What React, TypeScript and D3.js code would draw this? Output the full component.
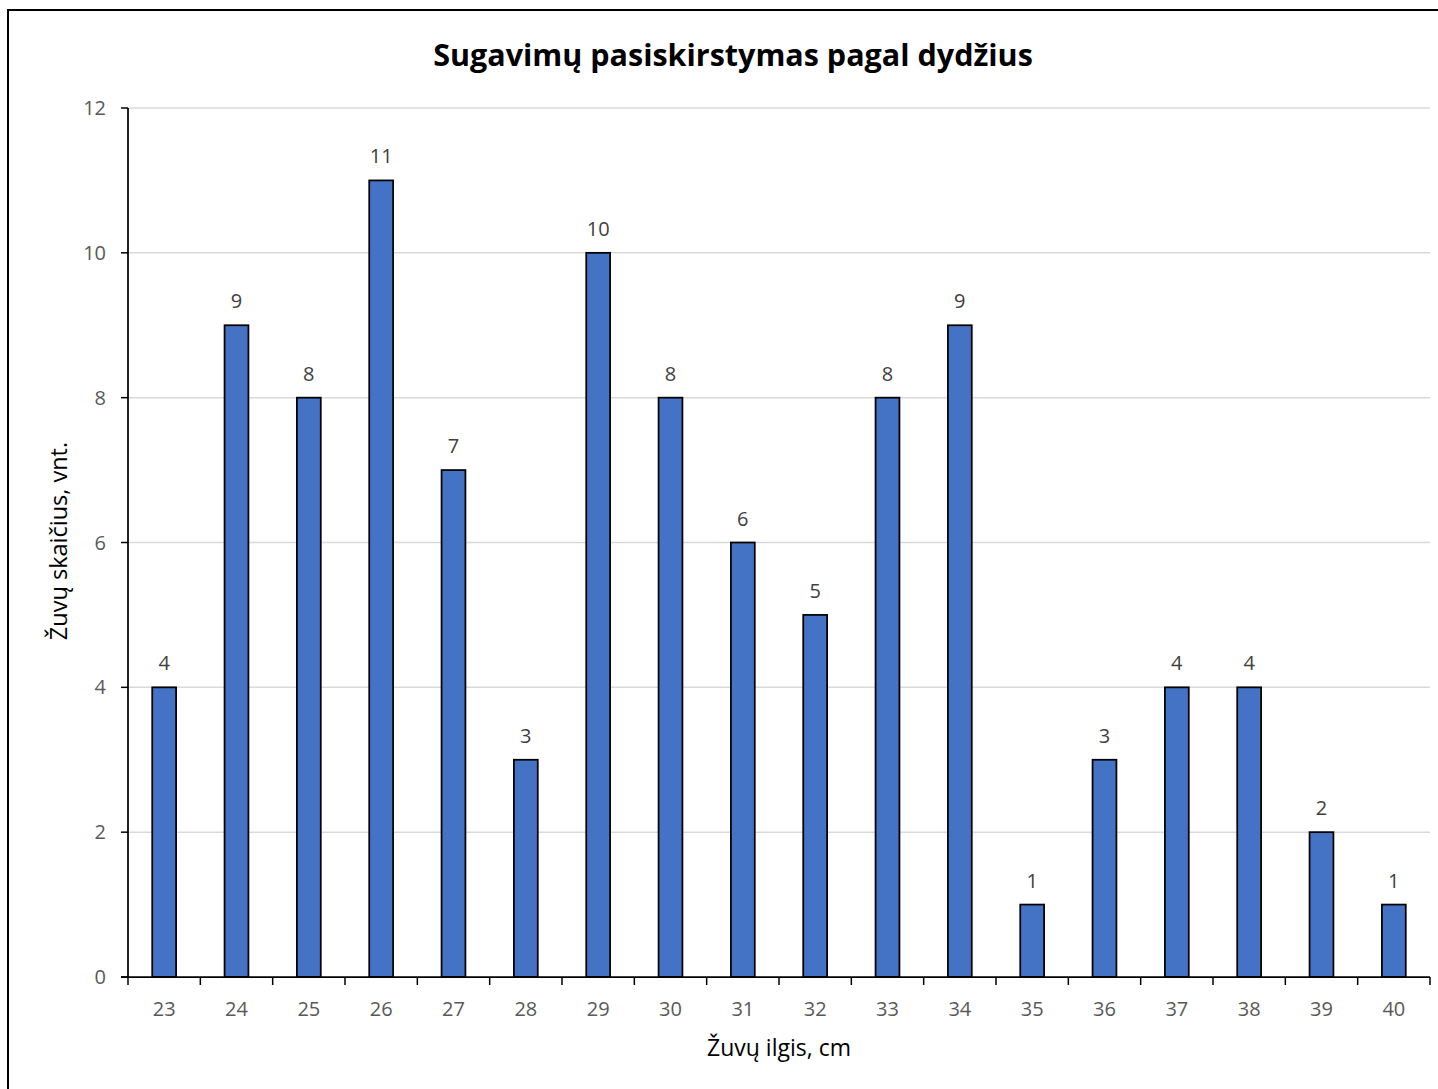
import React from 'react';
import * as d3 from 'd3';

const lengths = ['23', '24', '25', '26', '27', '28', '29', '30', '31', '32', '33', '34', '35', '36', '37', '38', '39', '40'];
const counts = [4, 9, 8, 11, 7, 3, 10, 8, 6, 5, 8, 9, 1, 3, 4, 4, 2, 1];
const yTicks = [0, 2, 4, 6, 8, 10, 12];

const W = 1438;
const H = 1089;
const font = '"Open Sans", "Noto Sans", sans-serif';

const App = () => {
  const left = 128;
  const right = 1430;
  const top = 108;
  const bottom = 977;

  const x = d3.scaleBand().domain(lengths).range([left, right]).paddingInner(0.67).paddingOuter(0.335);
  const band = d3.scaleBand().domain(lengths).range([left, right]);
  const y = d3.scaleLinear().domain([0, 12]).range([bottom, top]);

  return (
    <div style={{ position: 'fixed', left: 0, top: 0 }}>
      <svg width={W} height={H} style={{ display: 'block', background: '#fff' }}>
        <rect x={8} y={10} width={W + 20} height={H + 20} fill="#fff" stroke="#000" strokeWidth={2} />
        <text x={733} y={66} textAnchor="middle" fontFamily={font} fontWeight="bold" fontSize={30.5} fill="#000">
          Sugavimų pasiskirstymas pagal dydžius
        </text>

        {yTicks.map(t => (
          <g key={t}>
            {t > 0 && <line x1={left} x2={right} y1={y(t)} y2={y(t)} stroke="#d9d9d9" strokeWidth={1.5} />}
            <line x1={left - 7} x2={left} y1={y(t)} y2={y(t)} stroke="#000" strokeWidth={1.5} />
            <text x={106} y={y(t)} dy="0.35em" textAnchor="end" fontFamily={font} fontSize={20} fill="#595959">{t}</text>
          </g>
        ))}

        {lengths.map((c, i) => (
          <g key={c}>
            <rect x={x(c)} y={y(counts[i])} width={x.bandwidth()} height={bottom - y(counts[i])}
              fill="#4472c4" stroke="#000" strokeWidth={1.75} />
            <text x={x(c)! + x.bandwidth() / 2} y={y(counts[i]) - 17} textAnchor="middle" fontFamily={font} fontSize={20} fill="#404040">
              {counts[i]}
            </text>
            <text x={band(c)! + band.bandwidth() / 2} y={1016} textAnchor="middle" fontFamily={font} fontSize={20} fill="#595959">{c}</text>
          </g>
        ))}

        {[...lengths.map(c => band(c)!), right].map((tx, i) => (
          <line key={i} x1={tx} x2={tx} y1={bottom} y2={bottom + 8} stroke="#000" strokeWidth={1.5} />
        ))}
        <line x1={left} x2={left} y1={top} y2={bottom} stroke="#000" strokeWidth={1.75} />
        <line x1={left - 7} x2={right} y1={bottom} y2={bottom} stroke="#000" strokeWidth={1.75} />

        <text x={779} y={1056} textAnchor="middle" fontFamily={font} fontSize={23} fill="#000">Žuvų ilgis, cm</text>
        <text transform={`translate(67, ${541}) rotate(-90)`} textAnchor="middle" fontFamily={font} fontSize={23.5} fill="#000">
          Žuvų skaičius, vnt.
        </text>
      </svg>
    </div>
  );
};

export default App;
